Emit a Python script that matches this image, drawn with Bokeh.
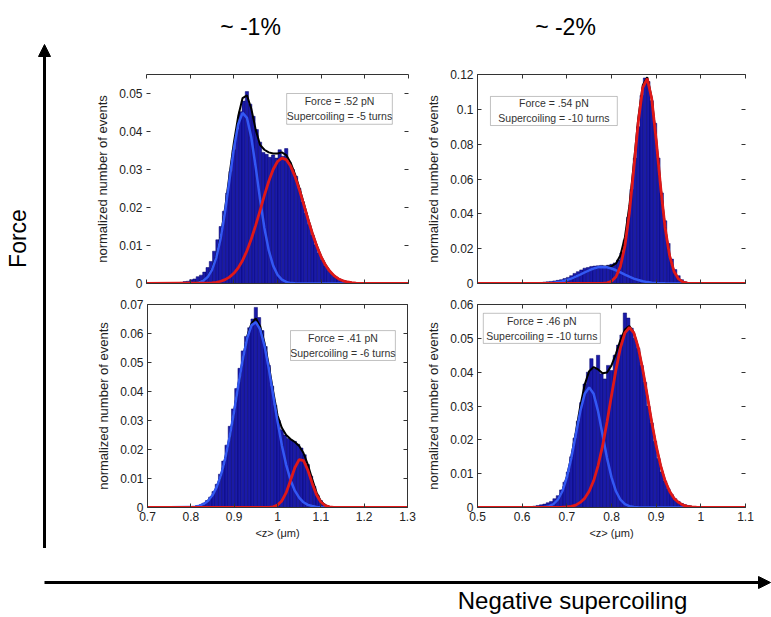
import numpy as np
from bokeh.plotting import figure
from bokeh.layouts import row, column
from bokeh.models import (Range1d, FixedTicker, NumeralTickFormatter, LinearAxis,
                          Label, Arrow, NormalHead, BoxAnnotation)
from bokeh.embed import file_html
from bokeh.resources import INLINE

FONT = "Liberation Sans"
BIN_W = 0.0075   # histogram bin width (um)
STEP = 0.01      # spacing of the fit-curve points (um)

# ---------------- texts ----------------
col_titles = ["~ -1%", "~ -2%"]
row_axis_label = "Force"
col_axis_label = "Negative supercoiling"
x_label = "<z> (μm)"
y_label = "normalized number of events"

# ---------------- top-left panel (~ -1 %, high force) ----------------
tl_xticks = [0.7, 0.8, 0.9, 1.0, 1.1, 1.2, 1.3]
tl_yticks = [0, 0.01, 0.02, 0.03, 0.04, 0.05]
tl_legend = ["Force = .52 pN", "Supercoiling = -5 turns"]
tl_hist_x0 = 0.78
tl_hist = [0.0003, 0.0005, 0.0006, 0.0010, 0.0012, 0.0018, 0.0022, 0.0030, 0.0042, 0.0058,
           0.0085, 0.0115, 0.0150, 0.0190, 0.0238, 0.0295, 0.0352, 0.0405, 0.0452, 0.0480,
           0.0505, 0.0472, 0.0440, 0.0405, 0.0372, 0.0345, 0.0340, 0.0332, 0.0338, 0.0330,
           0.0352, 0.0335, 0.0355, 0.0318, 0.0300, 0.0282, 0.0250, 0.0215, 0.0185, 0.0155,
           0.0128, 0.0102, 0.0080, 0.0062, 0.0046, 0.0034, 0.0024, 0.0017, 0.0011, 0.0007,
           0.0004, 0.0003, 0.0002]
tl_blue_x0 = 0.80
tl_blue = [0.00003, 0.0001, 0.00028, 0.00072, 0.00169, 0.00358, 0.00689, 0.0120, 0.0190, 0.0273,
           0.0355, 0.0419, 0.0449, 0.0436, 0.0384, 0.0307, 0.0222, 0.0146, 0.0087, 0.0047,
           0.0023, 0.0010, 0.0004, 0.0001, 0.00004]
tl_red_x0 = 0.85
tl_red = [0.00017, 0.00032, 0.00059, 0.00101, 0.00168, 0.00269, 0.00412, 0.00607, 0.0086, 0.0117,
          0.0153, 0.0192, 0.0232, 0.0269, 0.0300, 0.0321, 0.0330, 0.0326, 0.0309, 0.0282,
          0.0247, 0.0208, 0.0168, 0.0131, 0.0098, 0.0070, 0.0048, 0.0032, 0.0020, 0.0012,
          0.0007, 0.0004, 0.0002, 0.0001]
tl_black_x0 = 0.80
tl_black = [0.0001, 0.0002, 0.0004, 0.0008, 0.0018, 0.0038, 0.0072, 0.0125, 0.0198, 0.0285,
            0.0370, 0.0440, 0.0488, 0.0495, 0.0460, 0.0405, 0.0365, 0.0352, 0.0345, 0.0342,
            0.0342, 0.0345, 0.0338, 0.0318, 0.0288, 0.0252, 0.0212, 0.0171, 0.0133, 0.0100,
            0.0071, 0.0049, 0.0032, 0.0020, 0.0012, 0.0007, 0.0004, 0.0002]

# ---------------- top-right panel (~ -2 %, high force) ----------------
tr_xticks = [0.5, 0.6, 0.7, 0.8, 0.9, 1.0, 1.1]
tr_yticks = [0, 0.02, 0.04, 0.06, 0.08, 0.1, 0.12]
tr_legend = ["Force = .54 pN", "Supercoiling = -10 turns"]
tr_hist_x0 = 0.62
tr_hist = [0.0003, 0.0003, 0.0004, 0.0006, 0.0008, 0.0010, 0.0012, 0.0015, 0.0018, 0.0022,
           0.0028, 0.0035, 0.0045, 0.0058, 0.0068, 0.0078, 0.0088, 0.0092, 0.0098, 0.0100,
           0.0102, 0.0104, 0.0100, 0.0105, 0.0110, 0.0118, 0.0135, 0.0175, 0.0250, 0.0380,
           0.0540, 0.0720, 0.0900, 0.1080, 0.1180, 0.1160, 0.1050, 0.0920, 0.0720, 0.0520,
           0.0360, 0.0230, 0.0140, 0.0080, 0.0045, 0.0022, 0.0010, 0.0005, 0.0002]
tr_blue_x0 = 0.62
tr_blue = [0.00002, 0.00004, 0.00008, 0.00015, 0.00027, 0.00048, 0.0008, 0.0013, 0.0020, 0.0028,
           0.0039, 0.0051, 0.0064, 0.0076, 0.0086, 0.0093, 0.0095, 0.0093, 0.0086, 0.0076,
           0.0064, 0.0051, 0.0039, 0.0028, 0.0020, 0.0013, 0.0008, 0.0005, 0.0003, 0.00015,
           0.00008, 0.00004]
tr_red_x0 = 0.78
tr_red = [0.0001, 0.0004, 0.0013, 0.0039, 0.0098, 0.0215, 0.0406, 0.0661, 0.0929, 0.1125,
          0.1177, 0.1061, 0.0825, 0.0553, 0.0320, 0.0160, 0.0069, 0.0026, 0.0008, 0.0002,
          0.0001, 0.0]
tr_black_x0 = 0.62
tr_black = [0.00002, 0.00004, 0.00008, 0.00015, 0.00027, 0.00048, 0.0008, 0.0013, 0.0020, 0.0028,
            0.0039, 0.0051, 0.0064, 0.0076, 0.0086, 0.0093, 0.0096, 0.0097, 0.0099, 0.0115,
            0.0162, 0.0266, 0.0445, 0.0689, 0.0949, 0.1138, 0.1185, 0.1066, 0.0828, 0.0555,
            0.0321, 0.0160, 0.0069, 0.0026, 0.0008, 0.0002, 0.0001]

# ---------------- bottom-left panel (~ -1 %, low force) ----------------
bl_xticks = [0.7, 0.8, 0.9, 1.0, 1.1, 1.2, 1.3]
bl_yticks = [0, 0.01, 0.02, 0.03, 0.04, 0.05, 0.06, 0.07]
bl_legend = ["Force = .41 pN", "Supercoiling = -6 turns"]
bl_hist_x0 = 0.80
bl_hist = [0.0002, 0.0003, 0.0005, 0.0008, 0.0015, 0.0024, 0.0036, 0.0055, 0.0080, 0.0115,
           0.0160, 0.0215, 0.0280, 0.0340, 0.0410, 0.0480, 0.0540, 0.0590, 0.0620, 0.0650,
           0.0690, 0.0655, 0.0610, 0.0555, 0.0490, 0.0418, 0.0352, 0.0300, 0.0268, 0.0250,
           0.0238, 0.0232, 0.0228, 0.0218, 0.0205, 0.0182, 0.0148, 0.0108, 0.0072, 0.0042,
           0.0024, 0.0012, 0.0006, 0.0003, 0.0001]
bl_blue_x0 = 0.80
bl_blue = [0.00013, 0.00029, 0.00062, 0.00124, 0.00235, 0.0042, 0.0071, 0.0114, 0.0173, 0.0247,
           0.0333, 0.0425, 0.0512, 0.0584, 0.0628, 0.0639, 0.0614, 0.0558, 0.0479, 0.0388,
           0.0297, 0.0215, 0.0147, 0.0095, 0.0058, 0.0034, 0.0018, 0.0009, 0.0005, 0.0002,
           0.0001]
bl_red_x0 = 0.98
bl_red = [0.00006, 0.00024, 0.00083, 0.00227, 0.0051, 0.0093, 0.0137, 0.0165, 0.0162, 0.0129,
          0.0084, 0.0044, 0.0019, 0.0007, 0.0002, 0.00004]
bl_black_x0 = 0.80
bl_black = [0.0001, 0.0003, 0.0006, 0.0012, 0.0024, 0.0042, 0.0071, 0.0114, 0.0173, 0.0247,
            0.0333, 0.0425, 0.0512, 0.0590, 0.0635, 0.0652, 0.0625, 0.0568, 0.0490, 0.0400,
            0.0318, 0.0275, 0.0250, 0.0236, 0.0226, 0.0212, 0.0188, 0.0148, 0.0098, 0.0052,
            0.0022, 0.0008, 0.0002]

# ---------------- bottom-right panel (~ -2 %, low force) ----------------
br_xticks = [0.5, 0.6, 0.7, 0.8, 0.9, 1.0, 1.1]
br_yticks = [0, 0.01, 0.02, 0.03, 0.04, 0.05, 0.06]
br_legend = ["Force = .46 pN", "Supercoiling = -10 turns"]
br_hist_x0 = 0.62
br_hist = [0.0003, 0.0004, 0.0006, 0.0008, 0.0010, 0.0014, 0.0018, 0.0026, 0.0035, 0.0052,
           0.0075, 0.0105, 0.0150, 0.0205, 0.0255, 0.0310, 0.0365, 0.0400, 0.0440, 0.0410,
           0.0450, 0.0395, 0.0380, 0.0420, 0.0405, 0.0450, 0.0480, 0.0510, 0.0575, 0.0560,
           0.0530, 0.0500, 0.0470, 0.0420, 0.0370, 0.0300, 0.0250, 0.0195, 0.0145, 0.0105,
           0.0078, 0.0055, 0.0038, 0.0026, 0.0018, 0.0012, 0.0008, 0.0005, 0.0003]
br_blue_x0 = 0.63
br_blue = [0.00001, 0.00004, 0.00014, 0.0004, 0.0010, 0.0023, 0.0048, 0.0089, 0.0146, 0.0215,
           0.0284, 0.0336, 0.0355, 0.0336, 0.0284, 0.0215, 0.0146, 0.0089, 0.0048, 0.0023,
           0.0010, 0.0004, 0.00014, 0.00004, 0.00001]
br_red_x0 = 0.67
br_red = [0.00001, 0.00003, 0.00007, 0.00016, 0.00035, 0.0007, 0.0015, 0.0027, 0.0048, 0.0079,
          0.0124, 0.0182, 0.0253, 0.0331, 0.0407, 0.0472, 0.0516, 0.0532, 0.0516, 0.0472,
          0.0407, 0.0331, 0.0253, 0.0182, 0.0124, 0.0079, 0.0048, 0.0027, 0.0015, 0.0007,
          0.00035, 0.00016, 0.00007, 0.00003]
br_black_x0 = 0.64
br_black = [0.00004, 0.00014, 0.0004, 0.0010, 0.0023, 0.0049, 0.0091, 0.0150, 0.0222, 0.0299,
            0.0363, 0.0403, 0.0415, 0.0408, 0.0397, 0.0399, 0.0420, 0.0455, 0.0495, 0.0526,
            0.0536, 0.0517, 0.0472, 0.0407, 0.0331, 0.0253, 0.0182, 0.0124, 0.0079, 0.0048,
            0.0027, 0.0015, 0.0007, 0.0004, 0.0002]

# ---------------- styling ----------------
HIST_FILL = "#1a1aa8"
HIST_LINE = "#00006a"
BLUE = "#3358f4"
RED = "#e01818"
BLACK = "#000000"
AX = "#333333"
TXT = "#222222"


def grid(x0, n, step):
    return [round(x0 + i * step, 5) for i in range(n)]


def add_curve(p, x0, vals, xr, color, lw):
    xs = [xr[0]] + grid(x0, len(vals), STEP) + [xr[1]]
    ys = [0.0] + list(vals) + [0.0]
    p.line(xs, ys, line_color=color, line_width=lw)


def labelled_axis(ax, ticks, fmt, line_color=AX):
    ax.ticker = FixedTicker(ticks=ticks)
    ax.formatter = NumeralTickFormatter(format=fmt)
    ax.major_tick_in = 4
    ax.major_tick_out = 0
    ax.minor_tick_line_color = None
    ax.axis_line_color = line_color
    ax.major_tick_line_color = AX
    ax.major_label_text_font = FONT
    ax.major_label_text_font_size = "12px"
    ax.major_label_text_color = TXT
    ax.major_label_standoff = 4


def bare_axis(ax, ticks, line_color=AX):
    # a box side: inward tick marks only, no tick labels
    ax.ticker = FixedTicker(ticks=[], minor_ticks=ticks)
    ax.major_tick_line_color = None
    ax.minor_tick_in = 4
    ax.minor_tick_out = 0
    ax.minor_tick_line_color = AX
    ax.axis_line_color = line_color
    ax.major_label_standoff = 0


def panel(w, h, borders, xr, yr, xticks, yticks, hist_x0, hist, blue_x0, blue,
          red_x0, red, black_x0, black, legend, box, show_x, left_line, right_line):
    bl, br, bt, bb = borders
    p = figure(width=w, height=h, x_range=Range1d(*xr), y_range=Range1d(*yr),
               output_backend="svg", toolbar_location=None,
               min_border_left=bl, min_border_right=br,
               min_border_top=bt, min_border_bottom=bb)
    p.background_fill_color = "white"
    p.border_fill_color = "white"
    p.outline_line_color = None
    p.grid.visible = False

    p.vbar(x=grid(hist_x0, len(hist), BIN_W), top=hist, bottom=0, width=BIN_W,
           fill_color=HIST_FILL, line_color=HIST_LINE, line_width=0.5)
    add_curve(p, black_x0, black, xr, BLACK, 2)
    add_curve(p, blue_x0, blue, xr, BLUE, 2.5)
    add_curve(p, red_x0, red, xr, RED, 2.8)

    xa = p.xaxis[0]
    ya = p.yaxis[0]
    if show_x:
        labelled_axis(xa, xticks, "0.[0]")
        xa.axis_label = x_label
        xa.axis_label_text_font = FONT
        xa.axis_label_text_font_size = "11px"
        xa.axis_label_text_font_style = "normal"
        xa.axis_label_text_color = TXT
        xa.axis_label_standoff = 3
    else:
        bare_axis(xa, xticks)
    labelled_axis(ya, yticks, "0.[00]", AX if left_line else None)
    ya.axis_label = y_label
    ya.axis_label_text_font = FONT
    ya.axis_label_text_font_size = "13px"
    ya.axis_label_text_font_style = "normal"
    ya.axis_label_text_color = TXT
    ya.axis_label_standoff = 6

    top = LinearAxis()
    bare_axis(top, xticks)
    p.add_layout(top, "above")
    right = LinearAxis()
    bare_axis(right, yticks, AX if right_line else None)
    p.add_layout(right, "right")

    left, rgt, tp, bot = box
    p.add_layout(BoxAnnotation(left=left, right=rgt, top=tp, bottom=bot,
                               fill_color="white", fill_alpha=1.0,
                               line_color=AX, line_width=1))
    p.add_layout(Label(x=(left + rgt) / 2, y=(tp + bot) / 2, text="\n".join(legend),
                       text_align="center", text_baseline="middle",
                       text_font=FONT, text_font_size="10.5px", text_color="#333333",
                       text_line_height=1.25))
    return p


tl = panel(350, 244, (76, 12, 24, 10), (0.7, 1.3), (0, 0.055), tl_xticks, tl_yticks,
           tl_hist_x0, tl_hist, tl_blue_x0, tl_blue, tl_red_x0, tl_red, tl_black_x0, tl_black,
           tl_legend, (1.021, 1.263, 0.050, 0.0419), False, False, False)
tr = panel(351, 244, (57, 26, 24, 11), (0.5, 1.1), (0, 0.12), tr_xticks, tr_yticks,
           tr_hist_x0, tr_hist, tr_blue_x0, tr_blue, tr_red_x0, tr_red, tr_black_x0, tr_black,
           tr_legend, (0.529, 0.813, 0.1074, 0.0907), False, True, False)
bl = panel(350, 254, (77, 13, 10, 41), (0.7, 1.3), (0, 0.07), bl_xticks, bl_yticks,
           bl_hist_x0, bl_hist, bl_blue_x0, bl_blue, bl_red_x0, bl_red, bl_black_x0, bl_black,
           bl_legend, (1.030, 1.272, 0.0610, 0.0507), True, True, True)
br = panel(351, 254, (57, 26, 10, 35), (0.5, 1.1), (0, 0.06), br_xticks, br_yticks,
           br_hist_x0, br_hist, br_blue_x0, br_blue, br_red_x0, br_red, br_black_x0, br_black,
           br_legend, (0.513, 0.775, 0.0574, 0.0485), True, True, False)


def canvas(w, h):
    c = figure(width=w, height=h, x_range=Range1d(0, w), y_range=Range1d(0, h),
               output_backend="svg", toolbar_location=None,
               min_border=0, min_border_left=0, min_border_right=0,
               min_border_top=0, min_border_bottom=0)
    c.axis.visible = False
    c.grid.visible = False
    c.outline_line_color = None
    c.background_fill_color = "white"
    c.border_fill_color = "white"
    return c


# column titles
title_fig = canvas(701, 50)
for txt, cx in zip(col_titles, [180, 495]):
    title_fig.add_layout(Label(x=cx, y=24, text=txt, text_align="center",
                               text_baseline="middle", text_font=FONT,
                               text_font_size="23px", text_color="black"))

# left strip: Force arrow
left_fig = canvas(70, 548)
left_fig.add_layout(Arrow(end=NormalHead(size=12, fill_color="black", line_color="black",
                                         line_width=1),
                          x_start=44, y_start=0, x_end=44, y_end=504,
                          line_color="black", line_width=3))
left_fig.add_layout(Label(x=17, y=310, text=row_axis_label, angle=np.pi / 2,
                          text_align="center", text_baseline="middle", text_font=FONT,
                          text_font_size="23px", text_color="black"))

# bottom strip: supercoiling arrow
bottom_fig = canvas(771, 69)
bottom_fig.add_layout(Arrow(end=NormalHead(size=12, fill_color="black", line_color="black",
                                           line_width=1),
                            x_start=44, y_start=35, x_end=770, y_end=35,
                            line_color="black", line_width=3))
bottom_fig.add_layout(Label(x=572, y=17, text=col_axis_label, text_align="center",
                            text_baseline="middle", text_font=FONT,
                            text_font_size="24px", text_color="black"))

layout = column(row(left_fig, column(title_fig, row(tl, tr), row(bl, br))), bottom_fig)

open("out.html", "w").write(file_html(layout, INLINE))
